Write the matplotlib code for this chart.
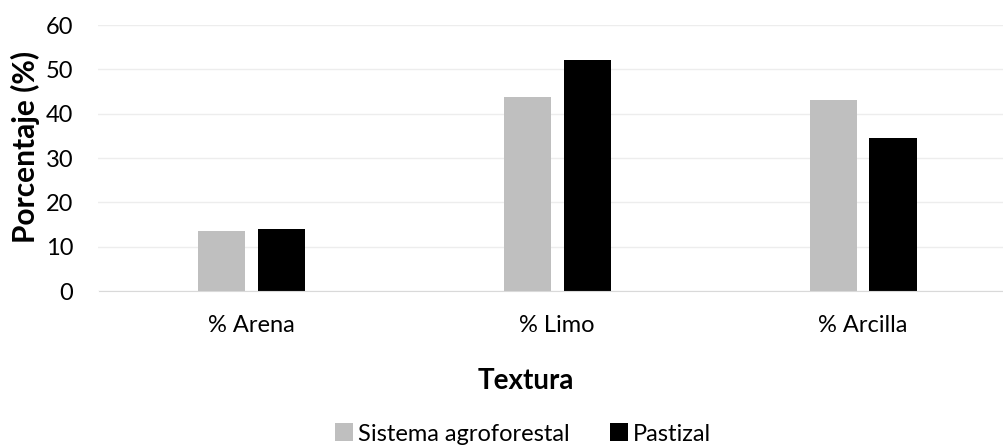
import numpy as np
import matplotlib
matplotlib.use("Agg")
import matplotlib.pyplot as plt

categories = ["% Arena", "% Limo", "% Arcilla"]
agroforestal = [13.6, 43.7, 43.1]
pastizal = [13.9, 52.1, 34.6]
series_names = ["Sistema agroforestal", "Pastizal"]
yticks = [0, 10, 20, 30, 40, 50, 60]

plt.rcParams['font.family'] = ['Lato', 'DejaVu Sans']

fig = plt.figure(figsize=(10.04, 4.48), dpi=100)
# plot area runs to the right edge (the original is cut off there)
ax = fig.add_axes([98.5 / 1004, 157 / 448, 905.5 / 1004, 266 / 448])

x = np.arange(len(categories))
w = 0.154
off = 0.098
b1 = ax.bar(x - off, agroforestal, w, color='#BFBFBF', label=series_names[0], zorder=3)
b2 = ax.bar(x + off, pastizal, w, color='#000000', label=series_names[1], zorder=3)

ax.set_xlim(-0.5, 2.461)
ax.set_ylim(0, 60)
ax.set_yticks(yticks)
ax.set_xticks(x)
ax.set_xticklabels(categories)
ax.tick_params(axis='both', length=0, labelsize=17, colors='#000000')
ax.tick_params(axis='y', pad=18)
ax.tick_params(axis='x', pad=17)
ax.grid(axis='y', color='#EDEDED', linewidth=1, zorder=0)
for s in ['top', 'right', 'left']:
    ax.spines[s].set_visible(False)
ax.spines['bottom'].set_color('#D9D9D9')
ax.spines['bottom'].set_zorder(4)

fig.text(25 / 1004, 1 - 147 / 448, 'Porcentaje (%)', rotation=90, ha='center', va='center',
         fontsize=21.5, fontweight='bold')
fig.text(526 / 1004, 1 - 381 / 448, 'Textura', ha='center', va='center',
         fontsize=20, fontweight='bold')

fig.legend(handles=[b1, b2], labels=series_names, loc='center left',
           bbox_to_anchor=(335 / 1004, 1 - 434 / 448), borderpad=0, borderaxespad=0,
           ncol=2, frameon=False, fontsize=17, handlelength=0.78, handleheight=0.78,
           handletextpad=0.2, columnspacing=1.7)

fig.savefig('out.png', dpi=100)
